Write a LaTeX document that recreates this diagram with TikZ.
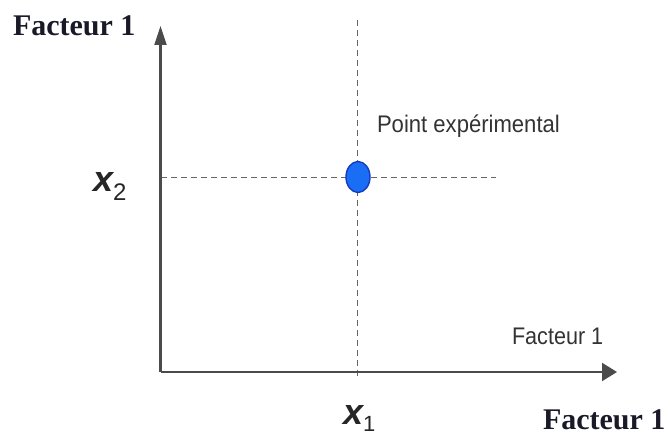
\documentclass[tikz,border=0pt]{standalone}
\usepackage{fontspec}
\setmainfont{Liberation Serif}
\setsansfont{Liberation Sans}
\usetikzlibrary{arrows.meta,shapes.geometric}
\definecolor{ptblue}{RGB}{25,110,245}
\definecolor{ptedge}{RGB}{20,60,190}
\definecolor{axisgray}{RGB}{75,75,75}
\definecolor{boldink}{RGB}{25,25,40}
\begin{document}
\begin{tikzpicture}[x=1pt,y=-1pt,
  axis/.style={line width=2.2pt,draw=axisgray},
  guide/.style={dash pattern=on 6pt off 4pt,line width=0.9pt,draw=black!60},
  lab/.style={anchor=base west,inner sep=0pt,outer sep=0pt},
  boldlab/.style={lab,font=\bfseries\fontsize{30}{34}\selectfont,text=boldink},
  sanslab/.style={lab,font=\sffamily\fontsize{24}{28}\selectfont,text=black!80},
  varlab/.style={lab,font=\sffamily\bfseries\itshape\fontsize{36}{40}\selectfont,text=black!85}]
\useasboundingbox (0,0) rectangle (670,435);
\coordinate (O) at (160.5,372);
\coordinate (ytop) at (160.5,26);
\coordinate (xend) at (617,372);
\coordinate (vtop) at (357,20);
\coordinate (vbot) at (357,378);
\coordinate (hleft) at (161,177);
\coordinate (hright) at (496,177);
\draw[guide] (vtop) -- (vbot);
\draw[guide] (hleft) -- (hright);
\draw[axis,-{Triangle[length=19pt,width=12pt]}] (O) -- (ytop);
\draw[axis,-{Triangle[length=15pt,width=18pt]}] (O) -- (xend);
\node[ellipse,minimum width=24pt,minimum height=31pt,inner sep=0pt,draw=ptedge,line width=1.4pt,fill=ptblue] (pt) at (358,177) {};
\node[sanslab] (ptlab) at (377,133) {\scalebox{0.92}[1]{Point expérimental}};
\node[boldlab] (ylab) at (13,36) {Facteur 1};
\node[sanslab] (xlab) at (512,345) {\scalebox{0.9}[1]{Facteur 1}};
\node[boldlab] (xlab2) at (543,430) {Facteur 1};
\node[varlab] (x1) at (343,425) {x\textsubscript{\normalfont\sffamily\fontsize{22}{24}\selectfont 1}};
\node[varlab] (x2) at (93,192) {x\textsubscript{\normalfont\sffamily\fontsize{24}{26}\selectfont 2}};
\end{tikzpicture}
\end{document}
